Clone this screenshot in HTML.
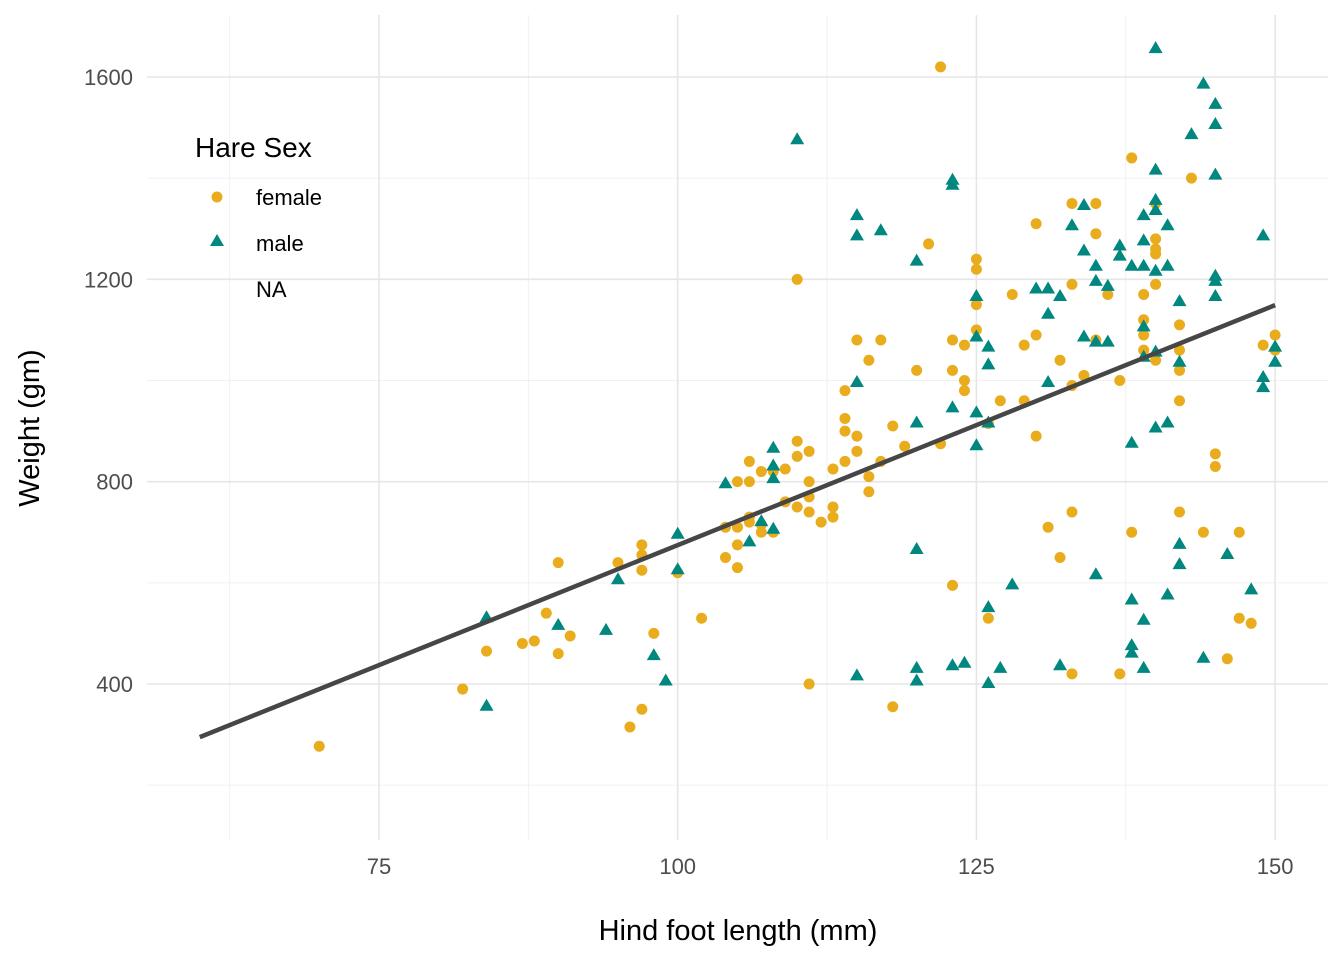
<!DOCTYPE html>
<html><head><meta charset="utf-8"><style>
body{margin:0;background:#fff;}
svg text{font-family:"Liberation Sans",Arial,sans-serif;}
</style></head><body>
<svg id="chart" width="1344" height="960" xmlns="http://www.w3.org/2000/svg">
<g id="grid"></g>
<g id="pts"></g>
<g id="fit"></g>
<g id="axes"></g>
<text x="738" y="940" font-size="29" text-anchor="middle" fill="#000">Hind foot length (mm)</text>
<text transform="translate(39,428) rotate(-90)" font-size="29" text-anchor="middle" fill="#000">Weight (gm)</text>
<g>
<text x="195" y="157" font-size="28" fill="#000">Hare Sex</text>
<circle cx="217" cy="197" r="5.5" fill="#E9AC1C"/>
<text x="256" y="205" font-size="22" fill="#000">female</text>
<polygon points="217,234 224,246 210,246" fill="#00877F"/>
<text x="256" y="251" font-size="22" fill="#000">male</text>
<text x="256" y="297" font-size="22" fill="#000">NA</text>
</g>
</svg>
<script>
const xTicks=[75,100,125,150];
const xMinor=[62.5,87.5,112.5,137.5];
const yTicks=[400,800,1200,1600];
const yMinor=[200,600,1000,1400];
const femaleX=[70,82,84,87,88,89,90,90,91,95,96,97,97,97,97,98,100,102,104,104,105,105,105,105,106,106,106,106,107,107,107,108,108,109,109,110,110,110,110,111,111,111,111,111,112,113,113,113,114,114,114,114,115,115,115,116,116,116,117,117,118,118,119,120,121,122,122,123,123,123,124,124,124,125,125,125,125,126,126,127,128,129,129,130,130,130,131,132,132,133,133,133,133,133,134,135,135,135,136,137,137,138,138,139,139,139,139,140,140,140,140,140,140,142,142,142,142,142,143,144,145,145,146,147,147,148,149,150,150];
const femaleY=[277,390,465,480,485,540,460,640,495,640,315,350,625,655,675,500,620,530,650,710,630,675,710,800,720,730,800,840,700,715,820,700,820,760,825,750,850,880,1200,400,740,770,800,860,720,730,750,825,840,900,925,980,860,890,1080,780,810,1040,840,1080,355,910,870,1020,1270,1620,875,595,1020,1080,980,1000,1070,1100,1150,1220,1240,530,915,960,1170,960,1070,890,1090,1310,710,650,1040,420,740,990,1190,1350,1010,1080,1290,1350,1170,420,1000,700,1440,1060,1090,1120,1170,1040,1190,1250,1260,1280,1350,740,960,1020,1060,1110,1400,700,830,855,450,530,700,520,1070,1060,1090];
const maleX=[84,84,90,94,95,98,99,100,100,104,106,107,108,108,108,108,110,115,115,115,115,117,120,120,120,120,120,123,123,123,123,124,125,125,125,125,126,126,126,126,126,127,128,130,131,131,131,132,132,133,134,134,134,135,135,135,135,136,136,137,137,138,138,138,138,138,139,139,139,139,139,139,139,140,140,140,140,140,140,140,141,141,141,141,142,142,142,142,143,144,144,145,145,145,145,145,145,146,148,149,149,149,150,150];
const maleY=[355,530,515,505,605,455,405,625,695,795,680,720,705,805,830,865,1475,415,995,1285,1325,1295,405,430,665,915,1235,435,945,1385,1395,440,870,935,1085,1165,400,550,1030,1065,915,430,595,1180,995,1130,1180,435,1165,1305,1085,1255,1345,615,1075,1195,1225,1075,1185,1245,1265,460,475,565,875,1225,430,525,1045,1105,1225,1275,1325,905,1055,1215,1335,1355,1415,1655,575,915,1225,1305,635,675,1035,1155,1485,450,1585,1165,1195,1205,1405,1505,1545,655,585,985,1005,1285,1035,1065];
const fitX=[60,150];
const fitY=[295,1149];
const ns="http://www.w3.org/2000/svg";
const X=v=>379+(v-75)*11.948;
const Y=v=>684-(v-400)*0.50583;
const L=147,R=1328,T=15,B=840;
function mk(tag,attrs,parent){const e=document.createElementNS(ns,tag);for(const k in attrs)e.setAttribute(k,attrs[k]);parent.appendChild(e);return e;}
const grid=document.getElementById('grid'),axes=document.getElementById('axes'),pts=document.getElementById('pts'),fit=document.getElementById('fit');
xMinor.forEach(v=>{const e=mk('line',{x1:X(v),x2:X(v),y1:T,y2:B,stroke:'#f0f0f0','stroke-width':1},grid);

});
yMinor.forEach(v=>{const e=mk('line',{x1:L,x2:R,y1:Y(v),y2:Y(v),stroke:'#f0f0f0','stroke-width':1},grid);

});
xTicks.forEach(v=>{const e=mk('line',{x1:X(v),x2:X(v),y1:T,y2:B,stroke:'#e6e6e6','stroke-width':1.6},grid);


const t=mk('text',{x:X(v),y:874,'font-size':22,'text-anchor':'middle',fill:'#4d4d4d'},axes);t.textContent=v;

});
yTicks.forEach(v=>{const e=mk('line',{x1:L,x2:R,y1:Y(v),y2:Y(v),stroke:'#e6e6e6','stroke-width':1.6},grid);


const t=mk('text',{x:133,y:Y(v)+8,'font-size':22,'text-anchor':'end',fill:'#4d4d4d'},axes);t.textContent=v;

});
femaleX.forEach((v,i)=>{const c=mk('circle',{cx:X(v),cy:Y(femaleY[i]),r:5.5,fill:'#E9AC1C'},pts);

});
maleX.forEach((v,i)=>{const x=X(v),y=Y(maleY[i]);const p=mk('polygon',{points:`${x},${y-8} ${x+7},${y+4} ${x-7},${y+4}`,fill:'#00877F'},pts);

});
const fl=mk('line',{x1:X(fitX[0]),y1:Y(fitY[0]),x2:X(fitX[1]),y2:Y(fitY[1]),stroke:'#464646','stroke-width':4.5,'stroke-linecap':'butt'},fit);


</script>
</body></html>
